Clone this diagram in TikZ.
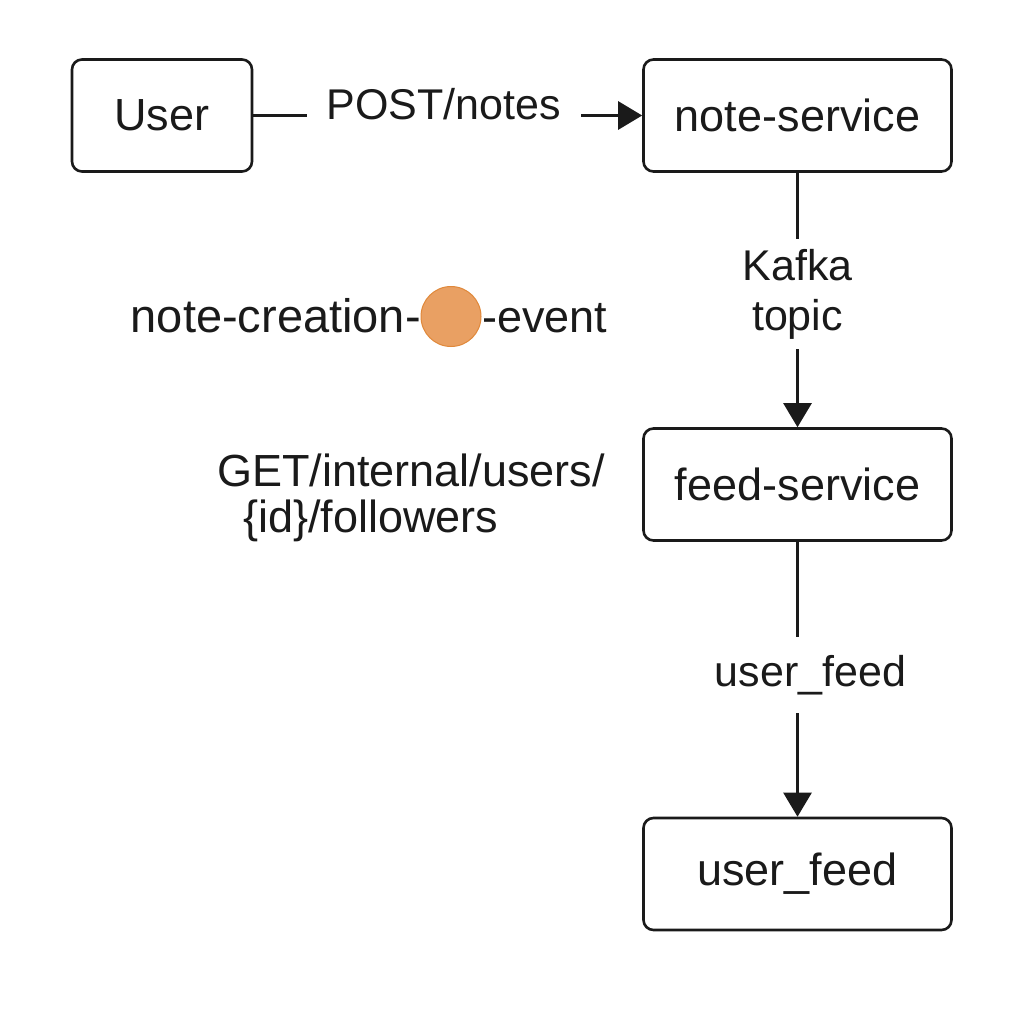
\documentclass[tikz,border=0pt]{standalone}
\usepackage{fontspec}
\setmainfont{Liberation Sans}
\usetikzlibrary{arrows.meta}
\definecolor{ink}{HTML}{1A1A1A}
\definecolor{dotfill}{HTML}{E9A063}
\definecolor{dotline}{HTML}{E0883A}
\begin{document}
\begin{tikzpicture}[x=1pt,y=-1pt,
  box/.style={draw=ink, line width=2.6pt, rounded corners=10pt, minimum height=112pt, inner sep=0pt, text=ink, font=\fontsize{45}{50}\selectfont},
  conn/.style={line width=2.6pt, draw=ink, -{Triangle[width=28pt,length=24pt]}},
  lbl/.style={fill=white, text=ink, font=\fontsize{43}{50}\selectfont, inner sep=0pt},
  txt/.style={text=ink, font=\fontsize{45}{50}\selectfont, inner sep=0pt}
]
\useasboundingbox (0,0) rectangle (1024,1024);
\fill[white] (0,0) rectangle (1024,1024);

\node[box, minimum width=180pt] (user) at (162,115.5) {User};
\node[box, minimum width=308pt] (ns) at (797.5,115.5) {note-service};
\node[box, minimum width=308pt, minimum height=112pt] (fs) at (797.5,484.5) {feed-service};
\node[box, minimum width=308pt] (uf) at (797.5,874) {user\_feed};

\draw[conn] (user) -- node[lbl, inner xsep=20pt, inner ysep=6pt, yshift=11pt, xshift=-4pt] {POST/notes} (ns);
\draw[conn] (ns) -- node[lbl, align=center, inner ysep=10pt, inner xsep=4pt, yshift=6pt] {Kafka\\topic} (fs);
\draw[conn] (fs) -- node[lbl, inner ysep=18pt, inner xsep=4pt, xshift=13pt, yshift=4pt] {user\_feed} (uf);

\node[circle, fill=dotfill, draw=dotline, line width=1pt, minimum size=60pt, inner sep=0pt] (dot) at (451,316.5) {};
\node[txt, anchor=base east, font=\fontsize{47}{50}\selectfont] (nc) at (421,332) {note-creation-};
\node[txt, anchor=base west] (ev) at (482,332) {-event};

\node[txt, anchor=base west] (get1) at (217,486) {GET/internal/users/};
\node[txt, anchor=base west] (get2) at (243,532) {\{id\}/followers};
\end{tikzpicture}
\end{document}
